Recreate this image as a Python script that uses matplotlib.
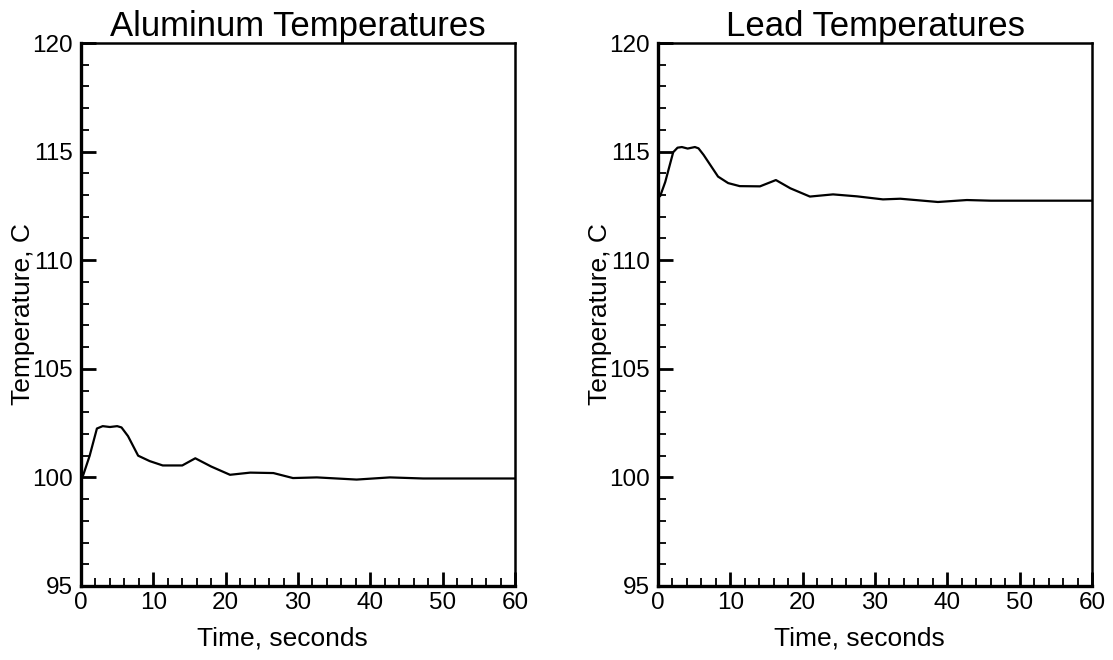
import matplotlib
matplotlib.use("Agg")
import matplotlib.pyplot as plt
from matplotlib.ticker import MultipleLocator

plt.rcParams['font.family'] = ['Liberation Sans', 'DejaVu Sans']

# Aluminum temperatures (time in s, temperature in C)
al_time = [0.0, 0.3, 1.2, 2.2, 3.0, 4.0, 5.0, 5.6, 6.5, 7.9, 9.5, 11.3, 14.0, 15.8,
           18.0, 20.6, 23.4, 26.6, 29.3, 32.6, 38.1, 42.7, 47.3, 60.0]
al_temp = [100.0, 100.1, 101.0, 102.25, 102.36, 102.32, 102.36, 102.3, 101.9, 101.0, 100.75, 100.55,
           100.55, 100.88, 100.5, 100.12, 100.22, 100.2, 99.97, 100.0, 99.9, 100.0, 99.95, 99.95]

# Lead temperatures
pb_time = [0.0, 0.3, 1.0, 2.1, 2.7, 3.3, 4.1, 5.1, 5.6, 6.3, 8.3, 9.7, 11.3, 14.1, 16.3,
           18.3, 21.0, 24.2, 27.5, 31.1, 33.5, 38.7, 42.7, 46.0, 60.0]
pb_temp = [112.9, 112.95, 113.6, 114.97, 115.18, 115.21, 115.14, 115.21, 115.15, 114.85, 113.85, 113.55, 113.41,
           113.4, 113.69, 113.31, 112.93, 113.03, 112.94, 112.8, 112.83, 112.68, 112.77, 112.74, 112.74]

titles = ["Aluminum Temperatures", "Lead Temperatures"]
x_label = "Time, seconds"
y_label = "Temperature, C"

W, H = 1113, 660
fig = plt.figure(figsize=(W / 100, H / 100), dpi=100)
lefts = [81, 658]
axw, top, bottom = 434, 43, 586

for i, (t, v) in enumerate([(al_time, al_temp), (pb_time, pb_temp)]):
    ax = fig.add_axes([lefts[i] / W, (H - bottom) / H, axw / W, (bottom - top) / H])
    ax.plot(t, v, color='black', lw=1.6, solid_joinstyle='round')
    ax.set_xlim(0, 60)
    ax.set_ylim(95, 120)
    ax.xaxis.set_major_locator(MultipleLocator(10))
    ax.xaxis.set_minor_locator(MultipleLocator(2))
    ax.yaxis.set_major_locator(MultipleLocator(5))
    ax.yaxis.set_minor_locator(MultipleLocator(1))
    ax.tick_params(which='both', direction='in', top=False, right=False, labelsize=17.5, colors='black')
    ax.tick_params(axis='y', which='major', length=11, width=2.0, pad=6)
    ax.tick_params(axis='y', which='minor', length=6, width=1.3)
    ax.tick_params(axis='x', which='major', length=10, width=2.0, pad=4)
    ax.tick_params(axis='x', which='minor', length=5.5, width=1.3)
    for s in ['left', 'bottom']:
        ax.spines[s].set_linewidth(2.4)
    for s in ['top', 'right']:
        ax.spines[s].set_linewidth(1.8)
    ax.set_title(titles[i], fontsize=25, pad=5)
    ax.set_xlabel(x_label, fontsize=19)
    ax.xaxis.set_label_coords(0.465, -0.075)
    ax.xaxis.label.set_verticalalignment('top')
    ax.set_ylabel(y_label, fontsize=19)
    ax.yaxis.set_label_coords(-0.106, 0.5)

fig.savefig("out.png", dpi=100)
